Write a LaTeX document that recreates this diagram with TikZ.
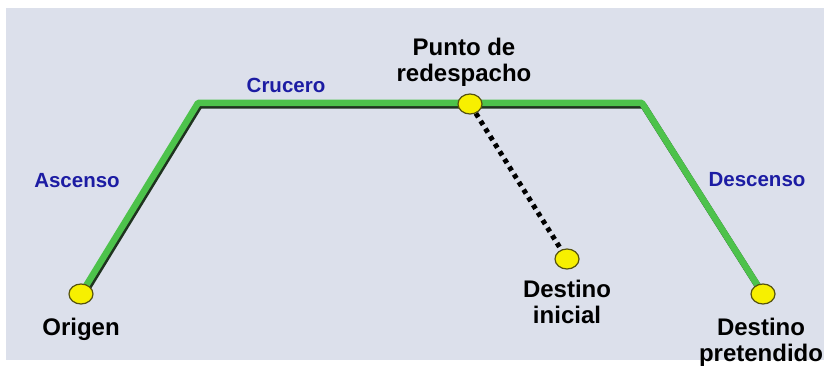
\documentclass[tikz,border=0pt]{standalone}
\usepackage{fontspec}
\setsansfont{Liberation Sans}
\usetikzlibrary{positioning,backgrounds,shapes.geometric}
\definecolor{panel}{HTML}{DCE0EB}
\definecolor{route}{HTML}{4DC24B}
\definecolor{routeshade}{HTML}{1F331F}
\definecolor{phase}{HTML}{1C1CA3}
\definecolor{pin}{HTML}{F7F000}
\definecolor{pinedge}{HTML}{55520E}

\begin{document}
\begin{tikzpicture}[x=1pt,y=1pt,every node/.style={font=\sffamily\bfseries},waypt/.style={ellipse,draw=pinedge,line width=1.2pt,fill=pin,minimum width=24pt,minimum height=20pt,inner sep=0pt},place/.style={align=center,inner sep=0pt,font=\sffamily\bfseries\fontsize{24}{26}\selectfont},phaselbl/.style={text=phase,inner sep=0pt,font=\sffamily\bfseries\fontsize{20.5}{22}\selectfont},leg/.style={line width=6.5pt,line join=round},alt/.style={line width=5pt,dash pattern=on 4.5pt off 4.5pt}]
\useasboundingbox (0,0) rectangle (824,366);
\node[waypt] (orig) at (81,72) {};
\node[waypt] (redesp) at (470,262) {};
\node[waypt] (dinit) at (567,107) {};
\node[waypt] (dpret) at (763,72) {};
\coordinate (toc) at (198,263);
\coordinate (tod) at (642,263);
\node[place,below=13pt of orig] (origlbl) {Origen};
\node[place,above=7pt of redesp,xshift=-6pt] (redlbl) {Punto de\\redespacho};
\node[place,below=10pt of dinit] (initlbl) {Destino\\inicial};
\node[place,below=13pt of dpret,xshift=-2pt] (pretlbl) {Destino\\pretendido};
\node[phaselbl] (asc) at (77,185) {Ascenso};
\node[phaselbl] (cru) at (286,281) {Crucero};
\node[phaselbl] (des) at (757,186) {Descenso};
\begin{scope}[on background layer]
\fill[panel] (6,6) rectangle (824,358);
\draw[leg,routeshade,transform canvas={shift={(1.5pt,-2.5pt)}}] (orig.center) -- (toc) -- (tod) -- (dpret.center);
\draw[leg,route] (orig.center) -- (toc) -- (tod) -- (dpret.center);
\draw[alt] (redesp) -- (dinit);
\end{scope}
\end{tikzpicture}
\end{document}
